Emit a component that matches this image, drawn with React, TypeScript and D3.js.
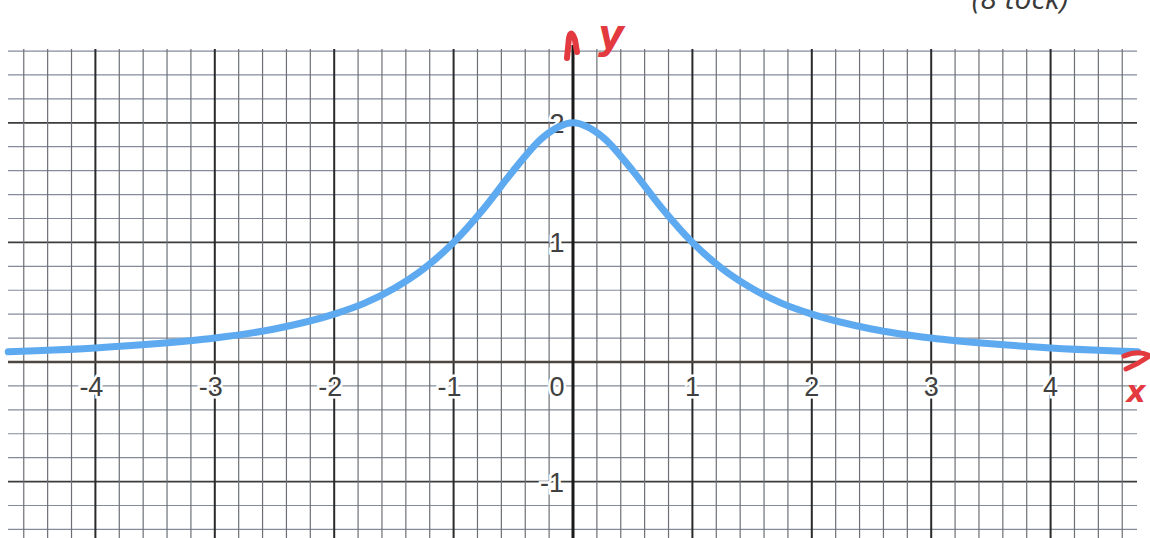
import React from "react";
import * as d3 from "d3";

const W = 1150;
const H = 538;

// Curve points
const curveX = [-4.73, -4.5, -4.0, -3.5, -3.0, -2.5, -2.0, -1.75, -1.5, -1.25, -1.0, -0.75, -0.5, -0.25, 0, 0.25, 0.5, 0.75, 1.0, 1.25, 1.5, 1.75, 2.0, 2.5, 3.0, 3.5, 4.0, 4.5, 4.73];
const curveY = [0.085, 0.094, 0.118, 0.152, 0.2, 0.276, 0.4, 0.49, 0.615, 0.78, 1.0, 1.28, 1.6, 1.88, 2.0, 1.88, 1.6, 1.28, 1.0, 0.78, 0.615, 0.49, 0.4, 0.276, 0.2, 0.152, 0.118, 0.094, 0.085];

const xTickLabels = ["-4", "-3", "-2", "-1", "0", "1", "2", "3", "4"];
const xTickValues = [-4, -3, -2, -1, 0, 1, 2, 3, 4];
const yTickLabels = ["2", "1", "-1"];
const yTickValues = [2, 1, -1];

const x = d3.scaleLinear().domain([0, 1]).range([573, 692.4]);
const y = d3.scaleLinear().domain([0, 1]).range([362, 242.4]);

export default function App() {
  const vLines = d3.range(-23, 24).map((i) => i / 5); // -4.6..4.6
  const hLines = d3.range(-7, 14).map((i) => i / 5); // -1.4..2.6
  const isMajor = (v: number) => Math.abs(v - Math.round(v)) < 1e-6;
  const xLeft = 8;
  const xRight = 1137;
  const yTop = y(2.6) - 2;
  const pts = curveX.map((v, i) => [v, curveY[i]] as [number, number]);
  const line = d3
    .line<[number, number]>()
    .x((d) => x(d[0]))
    .y((d) => y(d[1]))
    .curve(d3.curveMonotoneX);

  const labelStyle: React.CSSProperties = {
    fontFamily: "'Liberation Sans', Arial, sans-serif",
    fontSize: 27,
    fill: "#404040",
    stroke: "#ffffff",
    strokeWidth: 5,
    paintOrder: "stroke",
  };

  return (
    <svg
      width={W}
      height={H}
      style={{ position: "absolute", left: 0, top: 0, background: "#ffffff" }}
    >
      <rect x={0} y={0} width={W} height={H} fill="#ffffff" />
      {/* horizontal grid */}
      {hLines.map((v) => (
        <line
          key={"h" + v}
          x1={xLeft}
          x2={xRight}
          y1={y(v)}
          y2={y(v)}
          stroke={isMajor(v) ? "#3c3c3c" : "#838b9b"}
          strokeWidth={isMajor(v) ? 1.8 : 1.2}
        />
      ))}
      {/* vertical grid */}
      {vLines.map((v) => (
        <line
          key={"v" + v}
          x1={x(v)}
          x2={x(v)}
          y1={yTop}
          y2={H}
          stroke={isMajor(v) ? "#2a2a2a" : "#6c7076"}
          strokeWidth={isMajor(v) ? 2 : 1.2}
        />
      ))}
      {/* axes */}
      <line x1={xLeft} x2={xRight} y1={y(0)} y2={y(0)} stroke="#4e4741" strokeWidth={2.6} />
      <line x1={x(0)} x2={x(0)} y1={45} y2={H} stroke="#1a1a1a" strokeWidth={3} />

      {/* labels */}
      {xTickValues.map((v, i) => {
        const lab = xTickLabels[i];
        if (v === 0) {
          return (
            <text key={"xl" + v} x={x(0) - 16} y={y(-0.2) + 10} textAnchor="middle" style={labelStyle}>
              {lab}
            </text>
          );
        }
        return v < 0 ? (
          <text key={"xl" + v} x={x(v) + 8} y={y(-0.2) + 10} textAnchor="end" style={labelStyle}>
            {lab}
          </text>
        ) : (
          <text key={"xl" + v} x={x(v)} y={y(-0.2) + 10} textAnchor="middle" style={labelStyle}>
            {lab}
          </text>
        );
      })}
      {yTickValues.map((v, i) => (
        <text
          key={"yl" + v}
          x={v < 0 ? x(0) - 9 : x(0) - 16}
          y={y(v) + 10}
          textAnchor={v < 0 ? "end" : "middle"}
          style={labelStyle}
        >
          {yTickLabels[i]}
        </text>
      ))}

      {/* curve */}
      <path d={line(pts) || ""} fill="none" stroke="#5eaaf0" strokeWidth={7} strokeLinecap="round" />

      {/* red hand annotations */}
      <path
        d={`M ${x(0) - 6} 58 L ${x(0) - 4} 38 Q ${x(0) - 2} 28 ${x(0) + 2} 40 L ${x(0) + 4} 52`}
        fill="none"
        stroke="#e23a3f"
        strokeWidth={6}
        strokeLinecap="round"
      />
      <text
        x={x(0) + 38}
        y={48}
        textAnchor="middle"
        style={{ fontFamily: "'DejaVu Sans', sans-serif", fontSize: 40, fontStyle: "italic", fontWeight: "bold", fill: "#e23a3f" }}
      >
        y
      </text>
      <path
        d={`M 1124 356 Q 1138 350 1148 355 M 1126 369 Q 1138 364 1148 357`}
        fill="none"
        stroke="#e23a3f"
        strokeWidth={5}
        strokeLinecap="round"
      />
      <text
        x={1136}
        y={402}
        textAnchor="middle"
        style={{ fontFamily: "'DejaVu Sans', sans-serif", fontSize: 30, fontStyle: "italic", fontWeight: "bold", fill: "#e23a3f" }}
      >
        x
      </text>

      {/* cropped caption at top right, as in the reference */}
      <text
        x={1020}
        y={9}
        textAnchor="middle"
        style={{ fontFamily: "'Open Sans', sans-serif", fontSize: 30, fontStyle: "italic", fill: "#3a3a3a" }}
      >
        (8 tock)
      </text>
    </svg>
  );
}
